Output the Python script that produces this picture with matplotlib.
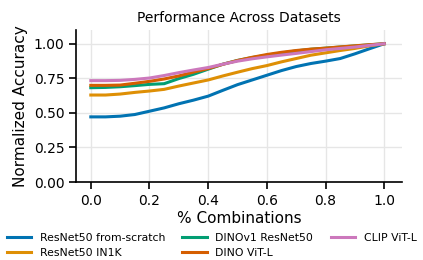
import numpy as np
import matplotlib
matplotlib.use("Agg")
import matplotlib.pyplot as plt

x = [0.0, 0.05, 0.1, 0.15, 0.2, 0.25, 0.3, 0.35, 0.4, 0.45, 0.5,
     0.55, 0.6, 0.65, 0.7, 0.75, 0.8, 0.85, 0.9, 0.95, 1.0]

resnet_scratch = [0.471, 0.471, 0.476, 0.488, 0.512, 0.536, 0.566, 0.592, 0.621, 0.663, 0.704,
                  0.738, 0.772, 0.806, 0.835, 0.857, 0.874, 0.893, 0.927, 0.964, 1.0]
resnet_in1k = [0.629, 0.629, 0.636, 0.648, 0.658, 0.670, 0.694, 0.716, 0.738, 0.767, 0.794,
               0.820, 0.842, 0.869, 0.893, 0.917, 0.934, 0.951, 0.966, 0.985, 1.0]
dinov1_resnet = [0.682, 0.684, 0.689, 0.697, 0.706, 0.711, 0.748, 0.779, 0.816, 0.852, 0.879,
                 0.900, 0.917, 0.933, 0.948, 0.960, 0.968, 0.976, 0.984, 0.992, 1.0]
dino_vit = [0.699, 0.699, 0.701, 0.714, 0.728, 0.745, 0.767, 0.795, 0.820, 0.851, 0.879,
            0.902, 0.922, 0.938, 0.951, 0.961, 0.968, 0.977, 0.985, 0.993, 1.0]
clip_vit = [0.733, 0.733, 0.735, 0.742, 0.752, 0.770, 0.791, 0.810, 0.828, 0.852, 0.874,
            0.891, 0.905, 0.918, 0.930, 0.943, 0.956, 0.966, 0.976, 0.988, 1.0]

series = [
    ("ResNet50 from-scratch", resnet_scratch, "#0173b2"),
    ("ResNet50 IN1K", resnet_in1k, "#de8f05"),
    ("DINOv1 ResNet50", dinov1_resnet, "#029e73"),
    ("DINO ViT-L", dino_vit, "#d55e00"),
    ("CLIP ViT-L", clip_vit, "#cc78bc"),
]

fig = plt.figure(figsize=(4.23, 2.6), dpi=100)
ax = fig.add_axes([0.18, 0.30, 0.77, 0.585])

for label, vals, color in series:
    ax.plot(x, vals, color=color, lw=2.2, label=label)

ax.set_ylim(0, 1.1)
ax.set_xlim(-0.05, 1.06)
ax.set_xticks([0.0, 0.2, 0.4, 0.6, 0.8, 1.0])
ax.set_yticks([0.0, 0.25, 0.5, 0.75, 1.0])
ax.set_yticklabels(["0.00", "0.25", "0.50", "0.75", "1.00"])
ax.grid(True, color="#e6e6e6", lw=1)
ax.set_axisbelow(True)
for s in ["top", "right"]:
    ax.spines[s].set_visible(False)
for s in ["left", "bottom"]:
    ax.spines[s].set_linewidth(1.2)
ax.tick_params(labelsize=10, width=1.2, length=5)

ax.set_title("Performance Across Datasets", fontsize=10)
ax.set_xlabel("% Combinations", fontsize=11, labelpad=2)
ax.set_ylabel("Normalized Accuracy", fontsize=11)

fig.legend(loc="center", bbox_to_anchor=(0.5, 0.056), ncol=3, frameon=False,
           fontsize=7.8, handlelength=2.3, columnspacing=1.6, handletextpad=0.75,
           labelspacing=0.4, borderpad=0, borderaxespad=0)

fig.savefig("out.png", dpi=100)
